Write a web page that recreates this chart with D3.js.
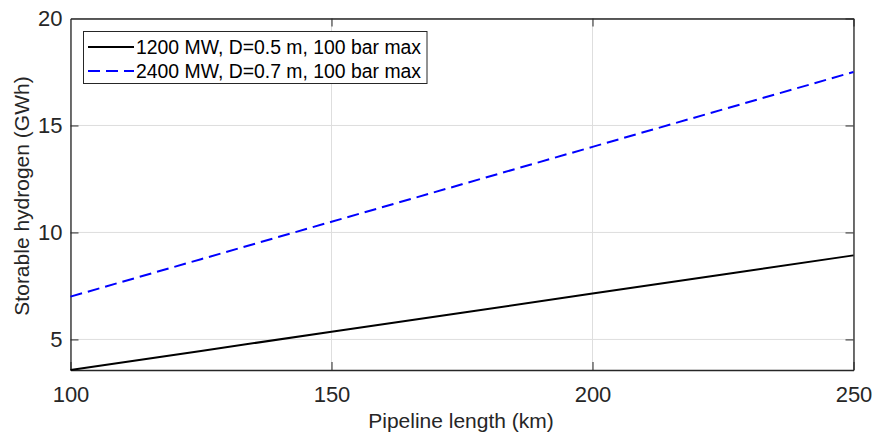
<!DOCTYPE html>
<html>
<head>
<meta charset="utf-8">
<script src="https://cdn.jsdelivr.net/npm/d3@7"></script>
<style>
  html, body { margin: 0; padding: 0; background: #fff; }
  svg { display: block; font-family: Arial, "Liberation Sans", sans-serif; }
</style>
</head>
<body>
<svg id="chart" width="875" height="434"></svg>
<script>
// Pipeline length (km)
const lengths = [100, 125, 150, 175, 200, 225, 250];
// Storable hydrogen (GWh)
const series1200 = [3.571, 4.464, 5.357, 6.250, 7.143, 8.036, 8.929];
const series2400 = [7.0, 8.75, 10.5, 12.25, 14.0, 15.75, 17.5];
const seriesNames = ["1200 MW, D=0.5 m, 100 bar max", "2400 MW, D=0.7 m, 100 bar max"];
const xTicks = [100, 150, 200, 250];
const yTicks = [5, 10, 15, 20];

const svg = d3.select("#chart");
const m = { left: 70.5, right: 853.5, top: 18.5, bottom: 370 };

const x = d3.scaleLinear().domain([100, 250]).range([m.left, m.right]);
const y = d3.scaleLinear().domain([3.571, 20]).range([m.bottom, m.top]);

// grid
const grid = svg.append("g").attr("stroke", "#dedede").attr("stroke-width", 1);
xTicks.forEach(t => grid.append("line")
  .attr("x1", x(t)).attr("x2", x(t)).attr("y1", m.top).attr("y2", m.bottom));
yTicks.forEach(t => grid.append("line")
  .attr("x1", m.left).attr("x2", m.right).attr("y1", y(t)).attr("y2", y(t)));

// axes with inward ticks
const axisColor = "#262626";
const xAxis = svg.append("g").attr("transform", `translate(0,${m.bottom})`)
  .call(d3.axisBottom(x).tickValues(xTicks).tickSize(-8).tickPadding(16).tickSizeOuter(0));
const xAxisTop = svg.append("g").attr("transform", `translate(0,${m.top})`)
  .call(d3.axisTop(x).tickValues(xTicks).tickSize(-8).tickFormat("").tickSizeOuter(0));
const yAxis = svg.append("g").attr("transform", `translate(${m.left},0)`)
  .call(d3.axisLeft(y).tickValues(yTicks).tickSize(-8).tickPadding(8).tickSizeOuter(0));
const yAxisRight = svg.append("g").attr("transform", `translate(${m.right},0)`)
  .call(d3.axisRight(y).tickValues(yTicks).tickSize(-8).tickFormat("").tickSizeOuter(0));

[xAxis, xAxisTop, yAxis, yAxisRight].forEach(g => {
  g.selectAll("path.domain").attr("stroke", axisColor).attr("stroke-width", 1.3);
  g.selectAll(".tick line").attr("stroke", axisColor).attr("stroke-width", 1);
  g.selectAll(".tick text").attr("fill", "#262626").attr("font-size", 22)
    .attr("font-family", "Arial, 'Liberation Sans', sans-serif");
});
xAxisTop.select(".tick:first-of-type line").remove();
yAxis.select(".tick:last-of-type line").remove();

// axis titles
svg.append("text").attr("x", 461).attr("y", 428)
  .attr("text-anchor", "middle").attr("font-size", 21).attr("fill", "#262626")
  .text("Pipeline length (km)");
svg.append("text")
  .attr("transform", `translate(29,196) rotate(-90)`)
  .attr("text-anchor", "middle").attr("font-size", 21).attr("fill", "#262626")
  .text("Storable hydrogen (GWh)");

// lines
const line = d3.line().x(d => x(d[0])).y(d => y(d[1]));
const plot = svg.append("g");
plot.append("path").datum(lengths.map((l, i) => [l, series1200[i]]))
  .attr("d", line).attr("fill", "none").attr("stroke", "#000").attr("stroke-width", 2);
plot.append("path").datum(lengths.map((l, i) => [l, series2400[i]]))
  .attr("d", line).attr("fill", "none").attr("stroke", "#0000ff").attr("stroke-width", 2)
  .attr("stroke-dasharray", "12,6");

// legend
const lg = svg.append("g");
lg.append("rect").attr("x", 83.5).attr("y", 31.5).attr("width", 343.5).attr("height", 52)
  .attr("fill", "#fff").attr("stroke", "#262626").attr("stroke-width", 1);
const legendStyles = [
  { color: "#000", dash: null },
  { color: "#0000ff", dash: "12,6" }
];
seriesNames.forEach((name, i) => {
  const cy = 47 + i * 24;
  lg.append("line").attr("x1", 88).attr("x2", 134).attr("y1", cy).attr("y2", cy)
    .attr("stroke", legendStyles[i].color).attr("stroke-width", 2)
    .attr("stroke-dasharray", legendStyles[i].dash);
  lg.append("text").attr("x", 136).attr("y", cy + 7).attr("font-size", 19.4)
    .attr("fill", "#000").text(name);
});
</script>
</body>
</html>
